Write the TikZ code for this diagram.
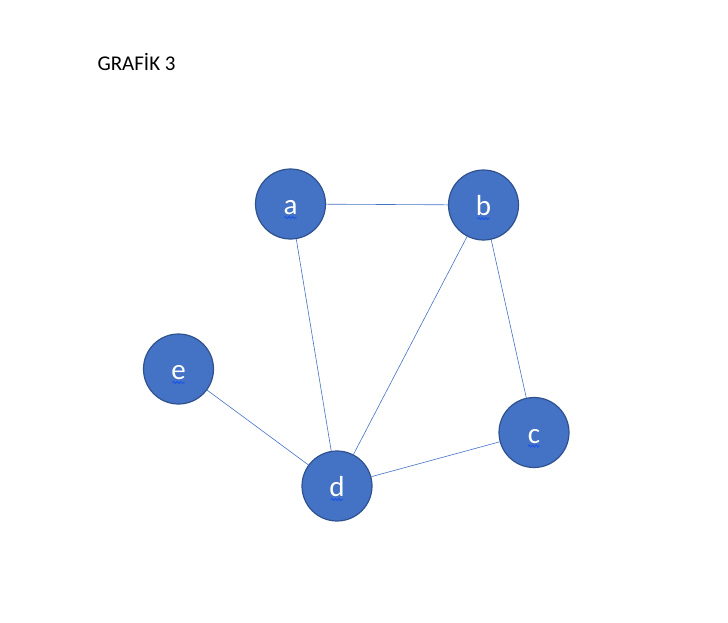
\documentclass[tikz,border=0pt]{standalone}
\usepackage{fontspec}
\setmainfont{Carlito}
\usepackage{xcolor}
\usetikzlibrary{positioning,decorations.pathmorphing}
\definecolor{vfill}{HTML}{4472C4}
\definecolor{vline}{HTML}{2F528F}
\definecolor{vwave}{HTML}{1A55E8}
\begin{document}
\begin{tikzpicture}[x=1pt,y=-1pt,
                vertex/.style = {circle, draw = vline, line width = 1.2pt, fill = vfill,
                    minimum size = 70pt, inner sep = 0pt, text height = 21pt, text depth = 0pt,
                    text = white, font = \fontsize{29}{29}\selectfont},
                link/.style = {draw = vfill, line width = 0.6pt},
                squiggle/.style = {draw = vwave, line width = 0.9pt,
                    decorate, decoration = {snake, amplitude = 1.1pt, segment length = 3.5pt}}]
            \useasboundingbox (0,0) rectangle (728,622);
            \node[anchor = west, font = \fontsize{21}{21}\selectfont] (title) at (94,62) {GRAFİK 3};
            \node[vertex] (a) at (290.5,204) {a};
            \node[vertex] (b) at (483.5,205) {b};
            \node[vertex] (e) at (178.5,369) {e};
            \node[vertex] (d) at (337,486) {d};
            \node[vertex] (c) at (534,432.5) {c};
            \draw[link] (a) -- (b);
            \draw[link] (a) -- (d);
            \draw[link] (b) -- (d);
            \draw[link] (b) -- (c);
            \draw[link] (c) -- (d);
            \draw[link] (e) -- (d);
            % wavy marks under the letters
            \foreach \v in {a,b,c,d,e}
                \draw[squiggle] ([xshift = -6pt, yshift = -13.5pt]\v.center) -- ([xshift = 6pt, yshift = -13.5pt]\v.center);
\end{tikzpicture}
\end{document}
